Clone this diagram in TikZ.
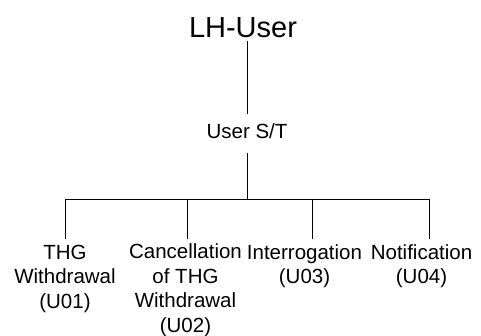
\documentclass[tikz,border=0pt]{standalone}
\usepackage{fontspec}
\setmainfont{Liberation Sans}
\begin{document}
\begin{tikzpicture}[x=1pt,y=-1pt,
  line/.style={draw=black,line width=1pt},
  lbl/.style={inner sep=0pt,anchor=base,align=center,font=\fontsize{20.5}{24.5}\selectfont},
  title/.style={inner sep=0pt,anchor=base,font=\fontsize{29}{34}\selectfont}]
\useasboundingbox[fill=white] (0,0) rectangle (481,335);
\node[title] (lh) at (243,37) {LH-User};
\node[lbl] (st) at (247,138) {User S/T};
\coordinate (lhb) at (247,41);
\coordinate (stt) at (247,114);
\coordinate (stb) at (247,153);
\coordinate (bus) at (247,199);
\coordinate (b1) at (65,199);
\coordinate (b2) at (187,199);
\coordinate (b3) at (312,199);
\coordinate (b4) at (429,199);
\coordinate (e1) at (65,239);
\coordinate (e2) at (187,239);
\coordinate (e3) at (312,239);
\coordinate (e4) at (429,239);
% base anchor of a multi-line node is the baseline of its last line
\node[lbl] (u1) at (65,308) {THG\\Withdrawal\\(U01)};
\node[lbl] (u2) at (185.5,332) {Cancellation\\of THG\\Withdrawal\\(U02)};
\node[lbl] (u3) at (304.5,283.5) {Interrogation\\(U03)};
\node[lbl] (u4) at (421.5,283.5) {Notification\\(U04)};
\draw[line] (lhb) -- (stt);
\draw[line] (stb) -- (bus);
\draw[line] (b1) -- (b4);
\draw[line] (b1) -- (e1);
\draw[line] (b2) -- (e2);
\draw[line] (b3) -- (e3);
\draw[line] (b4) -- (e4);
\end{tikzpicture}
\end{document}
